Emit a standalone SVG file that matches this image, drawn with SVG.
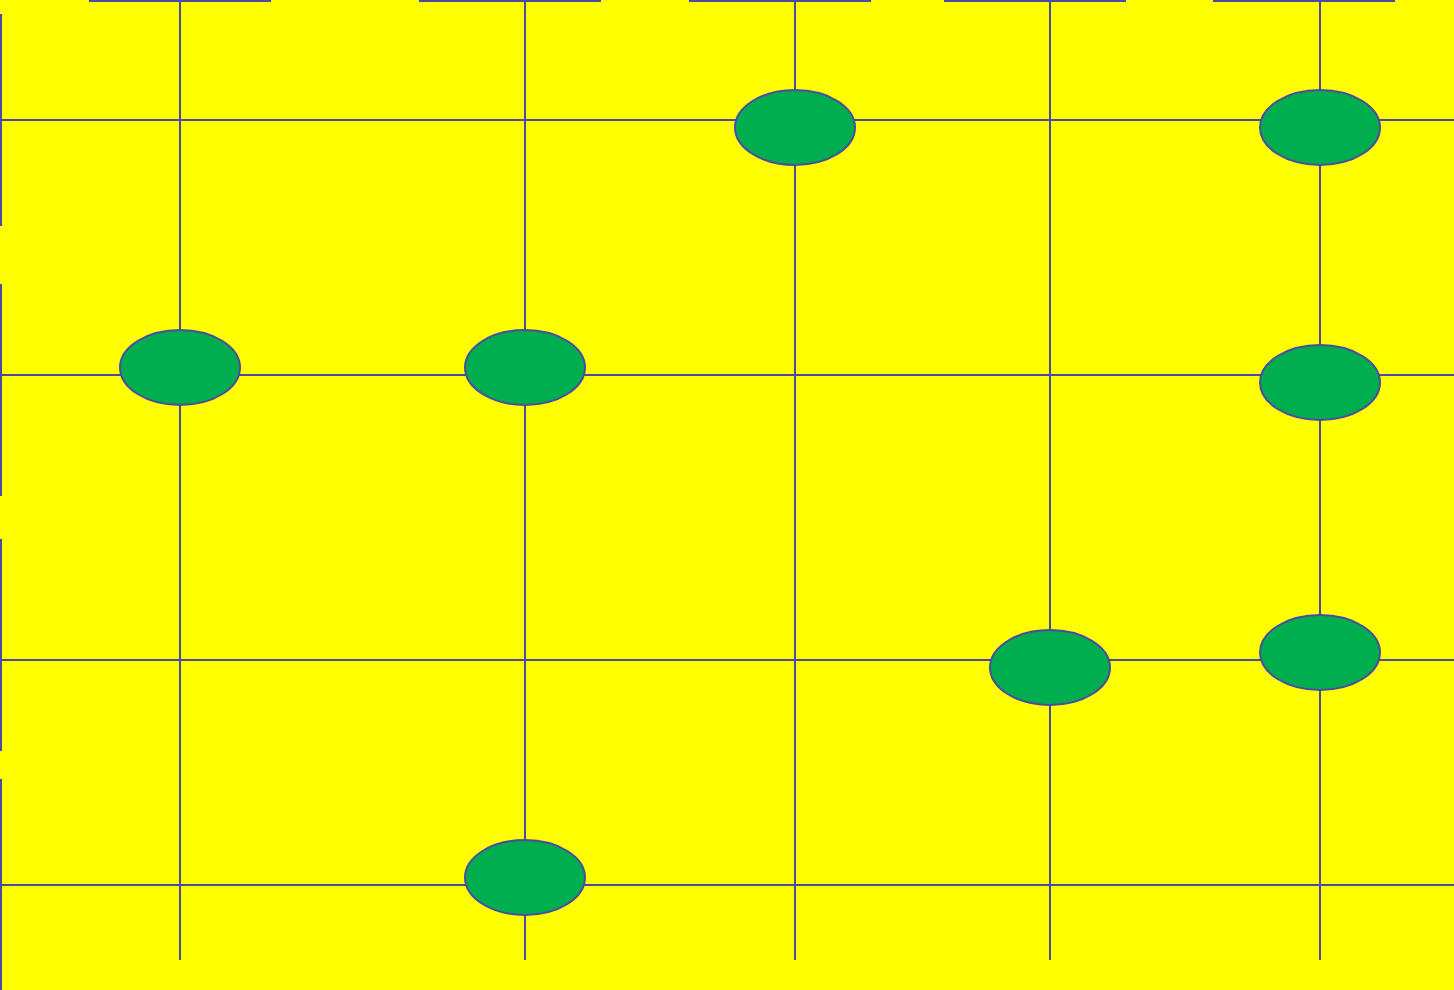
<svg xmlns="http://www.w3.org/2000/svg" width="1454" height="990" viewBox="0 0 1454 990">
<style>
.ln{stroke:#4B4BA0;stroke-width:2;fill:none}
.nd{fill:#00AE4F;stroke:#4B4BA0;stroke-width:2}
</style>
<rect x="0" y="0" width="1454" height="990" fill="#FFFF00"/>
<g id="connectors" class="ln">
<line x1="89" y1="1" x2="271" y2="1"/>
<line x1="419" y1="1" x2="601" y2="1"/>
<line x1="689" y1="1" x2="871" y2="1"/>
<line x1="944" y1="1" x2="1126" y2="1"/>
<line x1="1213" y1="1" x2="1395" y2="1"/>
<line x1="1" y1="14" x2="1" y2="226"/>
<line x1="1" y1="284" x2="1" y2="496"/>
<line x1="1" y1="539" x2="1" y2="751"/>
<line x1="1" y1="779" x2="1" y2="990"/>
<line x1="180" y1="0" x2="180" y2="960"/>
<line x1="525" y1="0" x2="525" y2="960"/>
<line x1="795" y1="0" x2="795" y2="960"/>
<line x1="1050" y1="0" x2="1050" y2="960"/>
<line x1="1320" y1="0" x2="1320" y2="960"/>
<line x1="0" y1="120" x2="1454" y2="120"/>
<line x1="0" y1="375" x2="1454" y2="375"/>
<line x1="0" y1="660" x2="1454" y2="660"/>
<line x1="0" y1="885" x2="1454" y2="885"/>
</g>
<g id="n1"><ellipse class="nd" cx="795" cy="127.5" rx="60" ry="37.5"/></g>
<g id="n2"><ellipse class="nd" cx="1320" cy="127.5" rx="60" ry="37.5"/></g>
<g id="n3"><ellipse class="nd" cx="180" cy="367.5" rx="60" ry="37.5"/></g>
<g id="n4"><ellipse class="nd" cx="525" cy="367.5" rx="60" ry="37.5"/></g>
<g id="n5"><ellipse class="nd" cx="1320" cy="382.5" rx="60" ry="37.5"/></g>
<g id="n6"><ellipse class="nd" cx="1050" cy="667.5" rx="60" ry="37.5"/></g>
<g id="n7"><ellipse class="nd" cx="1320" cy="652.5" rx="60" ry="37.5"/></g>
<g id="n8"><ellipse class="nd" cx="525" cy="877.5" rx="60" ry="37.5"/></g>
</svg>
